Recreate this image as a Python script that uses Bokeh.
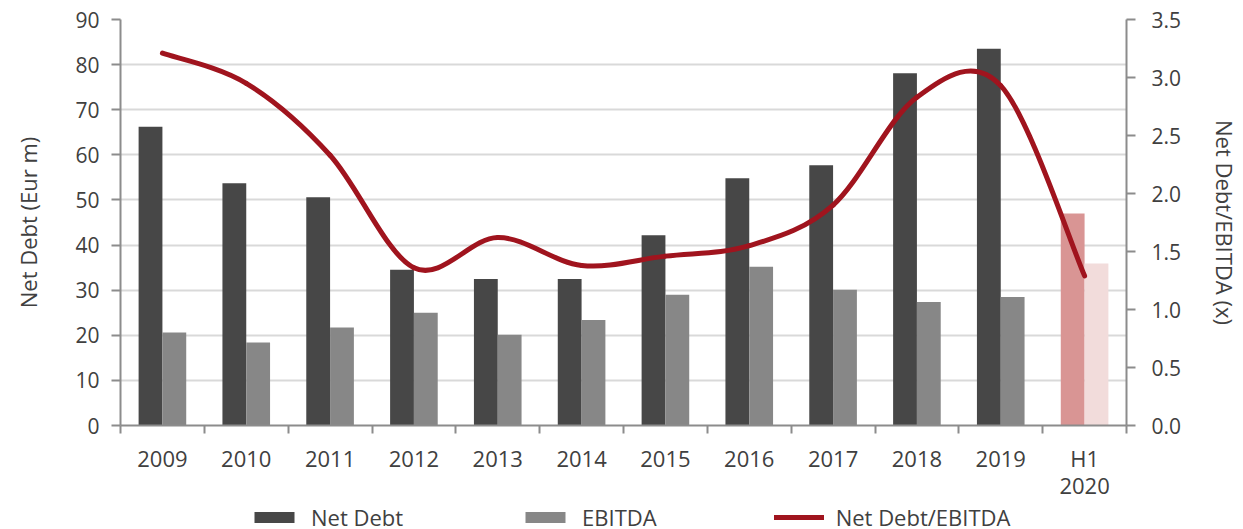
from bokeh.plotting import figure
from bokeh.layouts import column
from bokeh.models import (ColumnDataSource, Range1d, LinearAxis, FixedTicker,
                          Legend, LegendItem, NumeralTickFormatter)
from bokeh.embed import file_html
from bokeh.resources import INLINE

categories = ["2009", "2010", "2011", "2012", "2013", "2014", "2015", "2016",
              "2017", "2018", "2019", "H1\n2020"]
net_debt = [66.2, 53.7, 50.6, 34.5, 32.5, 32.5, 42.2, 54.8, 57.7, 78.1, 83.5, 47.0]
ebitda = [20.6, 18.4, 21.7, 25.0, 20.1, 23.4, 29.0, 35.2, 30.1, 27.4, 28.5, 35.9]
ratio = [3.21, 2.95, 2.33, 1.36, 1.62, 1.38, 1.46, 1.55, 1.90, 2.83, 2.93, 1.29]
series_names = ["Net Debt", "EBITDA", "Net Debt/EBITDA"]

left_ticks = [0, 10, 20, 30, 40, 50, 60, 70, 80, 90]
right_ticks = [0.0, 0.5, 1.0, 1.5, 2.0, 2.5, 3.0, 3.5]

DARK = "#474747"
GREY = "#878787"
PINK = "#d99594"
LPINK = "#f2dcdb"
RED = "#a0141e"
TXT = "#404040"
AX = "#8c8c8c"
FONT = "Open Sans"

n = len(categories)
centers = [i + 0.5 for i in range(n)]
bw = 0.284
dark_colors = [DARK] * (n - 1) + [PINK]
grey_colors = [GREY] * (n - 1) + [LPINK]

src_nd = ColumnDataSource(dict(x=[c - bw / 2 for c in centers], top=net_debt, color=dark_colors))
src_eb = ColumnDataSource(dict(x=[c + bw / 2 for c in centers], top=ebitda, color=grey_colors))

p = figure(width=1243, height=503, output_backend="svg", toolbar_location=None,
           x_range=Range1d(0, n), y_range=Range1d(0, 90),
           min_border_left=120, min_border_right=111, min_border_top=19, min_border_bottom=70)
p.extra_y_ranges = {"r": Range1d(0, 3.5)}
p.outline_line_color = None
p.background_fill_color = "white"
p.border_fill_color = "white"

p.xgrid.grid_line_color = None
p.ygrid.ticker = FixedTicker(ticks=left_ticks)
p.ygrid.grid_line_color = "#d9d9d9"
p.ygrid.grid_line_width = 2

r_nd = p.vbar(x="x", top="top", width=bw, bottom=0, source=src_nd, fill_color="color", line_color=None)
r_eb = p.vbar(x="x", top="top", width=bw, bottom=0, source=src_eb, fill_color="color", line_color=None)

# smoothed line (Catmull-Rom style Bezier between data points)
x0, y0, x1, y1, cx0, cy0, cx1, cy1 = [], [], [], [], [], [], [], []
for i in range(n - 1):
    xp, yp = (centers[i - 1], ratio[i - 1]) if i > 0 else (centers[i], ratio[i])
    xa, ya = centers[i], ratio[i]
    xb, yb = centers[i + 1], ratio[i + 1]
    xn, yn = (centers[i + 2], ratio[i + 2]) if i + 2 < n else (centers[i + 1], ratio[i + 1])
    x0.append(xa); y0.append(ya); x1.append(xb); y1.append(yb)
    cx0.append(xa + (xb - xp) / 6); cy0.append(ya + (yb - yp) / 6)
    cx1.append(xb - (xn - xa) / 6); cy1.append(yb - (yn - ya) / 6)
r_line = p.bezier(x0=x0, y0=y0, x1=x1, y1=y1, cx0=cx0, cy0=cy0, cx1=cx1, cy1=cy1,
                  line_color=RED, line_width=5, line_cap="round", y_range_name="r")

def style_axis(ax):
    ax.axis_line_color = AX
    ax.axis_line_width = 2
    ax.major_tick_line_color = AX
    ax.major_tick_line_width = 2
    ax.minor_tick_line_color = AX
    ax.minor_tick_line_width = 2
    ax.major_label_text_color = TXT
    ax.major_label_text_font = FONT
    ax.major_label_text_font_size = "21px"
    ax.axis_label_text_color = TXT
    ax.axis_label_text_font = FONT
    ax.axis_label_text_font_size = "22px"
    ax.axis_label_text_font_style = "normal"

# x axis
xa = p.xaxis[0]
style_axis(xa)
xa.ticker = FixedTicker(ticks=centers, minor_ticks=list(range(n + 1)))
xa.major_label_overrides = {c: lab for c, lab in zip(centers, categories)}
xa.major_tick_in = 0
xa.major_tick_out = 0
xa.minor_tick_in = 0
xa.minor_tick_out = 8
xa.major_label_standoff = 9
xa.major_label_text_font_size = "22px"
xa.major_label_text_line_height = 0.92

# left axis
ya = p.yaxis[0]
style_axis(ya)
ya.ticker = FixedTicker(ticks=left_ticks, minor_ticks=[])
ya.major_tick_in = 0
ya.major_tick_out = 9
ya.major_label_standoff = 12
ya.axis_label = "Net Debt (Eur m)"
ya.axis_label_standoff = 29

# right axis
ra = LinearAxis(y_range_name="r", ticker=FixedTicker(ticks=right_ticks, minor_ticks=[]),
                formatter=NumeralTickFormatter(format="0.0"))
style_axis(ra)
ra.major_tick_in = 0
ra.major_tick_out = 9
ra.major_label_standoff = 16
ra.axis_label = "Net Debt/EBITDA (x)"
ra.axis_label_standoff = 26
p.add_layout(ra, "right")

# legend strip below the chart (frame aligned with the chart's frame by the column)
lf = figure(width=1243, height=26, output_backend="svg", toolbar_location=None,
            x_range=Range1d(0, 1), y_range=Range1d(0, 1),
            x_axis_location=None, y_axis_location=None,
            min_border_left=120, min_border_right=111, min_border_top=0, min_border_bottom=0)
lf.grid.grid_line_color = None
lf.outline_line_color = None
lf.background_fill_color = "white"
lf.border_fill_color = "white"
nan = float("nan")
proxy = ColumnDataSource(dict(x=[nan, nan], y=[nan, nan], top=[nan, nan]))
lg_nd = lf.vbar(x="x", top="top", bottom="top", width=0.1, source=proxy, fill_color=DARK, line_color=None)
lg_eb = lf.vbar(x="x", top="top", bottom="top", width=0.1, source=proxy, fill_color=GREY, line_color=None)
lg_ln = lf.line(x="x", y="y", source=proxy, line_color=RED, line_width=5, line_cap="round")
legend = Legend(items=[LegendItem(label=series_names[0], renderers=[lg_nd]),
                       LegendItem(label=series_names[1], renderers=[lg_eb]),
                       LegendItem(label=series_names[2], renderers=[lg_ln])],
                location=(129, -3), orientation="horizontal", spacing=117,
                background_fill_alpha=0, border_line_color=None,
                glyph_width=50, glyph_height=14, label_standoff=12,
                label_text_font=FONT, label_text_font_size="22px",
                label_text_line_height=1.0, label_height=20,
                label_text_color=TXT, padding=0, margin=0)
lf.add_layout(legend, "center")

open("out.html", "w").write(file_html(column(p, lf, spacing=0), INLINE))
